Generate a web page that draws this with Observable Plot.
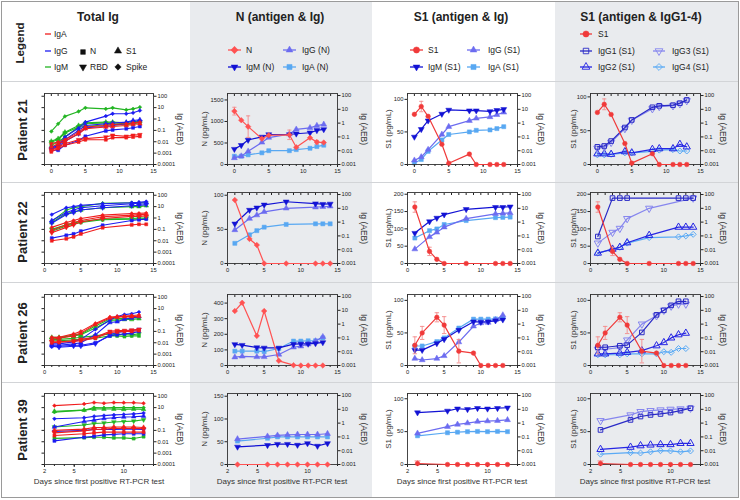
<!DOCTYPE html>
<html><head><meta charset="utf-8">
<script src="https://cdn.jsdelivr.net/npm/d3@7"></script>
<script src="https://cdn.jsdelivr.net/npm/@observablehq/plot@0.6"></script>
<style>
body{margin:0;background:#fff;font-family:"Liberation Sans",Arial,Helvetica,sans-serif;}
#fig{position:relative;width:740px;height:500px;overflow:hidden;background:#fff;}
</style></head>
<body><div id="fig"></div>
<script>
// ---------------- DATA ----------------
const antigens = ["N","RBD","S1","Spike"];
const igClasses = ["IgA","IgG","IgM"];
const columnTitles = ["Total Ig","N (antigen & Ig)","S1 (antigen & Ig)","S1 (antigen & IgG1-4)"];
const patientLabels = ["Patient 21","Patient 22","Patient 26","Patient 39"];
const logTicksTotal = [0.0001,0.001,0.01,0.1,1,10,100];
const logTicksPanel = [0.001,0.01,0.1,1,10,100];

// Patient 21
const p21Days = [0,1,2,4,5,8,9,11,12,13];
const p21TotalIgA = [
  [0.0013,0.0025,0.005,0.0095,0.015,0.015,0.023,0.023,0.026,0.03],
  [0.0018,0.0035,0.0068,0.015,0.019,0.026,0.037,0.03,0.037,0.042],
  [0.0035,0.0068,0.011,0.05,0.14,0.2,0.22,0.27,0.33,0.38],
  [0.0068,0.0095,0.015,0.07,0.2,0.27,0.33,0.38,0.44,0.53]];
const p21TotalIgG = [
  [0.0018,0.0018,0.005,0.013,0.03,0.09,0.11,0.14,0.17,0.22],
  [0.0025,0.0035,0.011,0.05,0.17,0.22,0.27,0.38,0.44,0.6],
  [0.0035,0.005,0.015,0.1,0.27,0.38,0.44,0.53,0.75,0.86],
  [0.0025,0.005,0.026,0.16,0.53,1.8,2.9,2.9,3.5,5.6]];
const p21TotalIgM = [
  [0.005,0.0095,0.026,0.2,0.22,0.31,0.33,0.31,0.38,0.47],
  [0.0095,0.015,0.058,0.2,0.38,0.44,0.44,0.38,0.47,0.53],
  [0.011,0.019,0.07,0.27,0.47,0.53,0.53,0.47,0.6,0.65],
  [0.08,0.38,1.7,4.6,9.6,7.8,9.6,6.4,7.8,11]];
const p21N = [1240,1030,880,600,680,690,400,620,520,510];
const p21NErr = [90,null,250,null,null,110,null,null,40,null];
const p21IgM_N = [0.013,0.025,0.06,0.1,0.15,0.15,0.17,0.2,0.3,0.35];
const p21IgG_N = [0.003,0.004,0.009,0.04,0.09,0.16,0.35,0.45,0.65,0.8];
const p21IgA_N = [0.004,0.004,0.005,0.007,0.01,0.01,0.012,0.015,0.02,0.025];
const p21S1 = [77,89,74,31,2,16,0,0,0,0];
const p21S1Err = [null,8,null,null,null,null,null,null,null,null];
const p21IgM_S1 = [0.1,0.36,1.5,4.6,9,8,8,7,8.5,10];
const p21IgG_S1 = [0.002,0.0035,0.012,0.15,0.55,1.5,2.2,2.8,4,6];
const p21IgA_S1 = [0.0013,0.0023,0.009,0.06,0.15,0.23,0.3,0.32,0.4,0.55];
const p21IgG1_S1 = [0.019,0.022,0.05,0.48,1.7,14,18,20,28,48];
const p21IgG2_S1 = [0.006,0.006,0.0055,0.0085,0.007,0.0125,0.014,0.014,0.029,0.019];
const p21IgG3_S1 = [0.015,0.018,0.04,0.4,1.6,11,16,18,25,42];
const p21IgG4_S1 = [0.005,0.005,0.0055,0.007,0.007,0.009,0.011,0.012,0.0095,0.0095];

// Patient 22
const p22Days = [1,3,4,5,8,12,13,14];
const p22TotalIgA = [
  [0.01,0.015,0.022,0.04,0.14,0.25,0.28,0.28],
  [0.05,0.15,0.25,0.45,0.9,1.4,1.4,1.5],
  [0.08,0.25,0.4,0.6,1.3,1.8,2,2],
  [0.15,0.4,0.6,0.9,1.8,2.5,2.6,2.7]];
const p22TotalIgG = [
  [0.017,0.03,0.04,0.07,0.23,0.6,0.7,0.8],
  [0.35,2,3,5,8,12,13,15],
  [0.6,3,5,8,12,18,20,22],
  [2,8,10,13,18,22,24,28]];
const p22TotalIgM = [
  [0.07,0.2,0.3,0.4,0.7,0.8,0.8,0.9],
  [0.1,0.25,0.35,0.5,0.8,0.9,1.0,1.0],
  [0.4,2.5,3.5,5,8,10,10,12],
  [0.5,5,8,10,20,22,22,22]];
const p22N = [93,36,27,0,0,0,0,0];
const p22NErr = [null,null,null,null,null,null,null,null];
const p22IgM_N = [0.76,7.5,11,18,30,22,20,21];
const p22IgG_N = [0.27,1.8,3.2,5.6,10,12,13,14];
const p22IgA_N = [0.029,0.12,0.24,0.43,0.68,0.75,0.75,0.75];
const p22S1 = [163,35,12,0,0,0,0,0];
const p22S1Err = [15,12,null,null,null,null,null,null];
const p22IgM_S1 = [0.16,1.1,2,3.5,8.5,12,12,13];
const p22IgG_S1 = [0.011,0.085,0.18,0.43,1.8,4,4.3,4.6];
const p22IgA_S1 = [0.07,0.24,0.32,0.67,1.3,2.1,2.2,2.3];
const p22IgG1_S1 = [0.09,55,55,55,null,55,55,55];
const p22IgG2_S1 = [0.0057,0.011,0.015,0.032,0.11,0.43,0.43,0.43];
const p22IgG3_S1 = [0.03,0.18,0.35,1.8,10,null,null,55];
const p22IgG4_S1 = [0.0057,0.011,0.015,0.03,0.076,0.085,0.1,0.13];

// Patient 26
const p26Days = [1,2,4,5,7,9,10,11,12,13];
const p26TotalIgA = [
  [0.01,0.011,0.013,0.015,0.025,0.08,0.09,0.1,0.1,0.12],
  [0.012,0.012,0.015,0.02,0.03,0.1,0.12,0.12,0.13,0.15],
  [0.02,0.025,0.04,0.07,0.4,1.5,1.8,2,2,2.2],
  [0.03,0.03,0.06,0.1,0.5,1.8,2,2.2,2.5,2.8]];
const p26TotalIgG = [
  [0.005,0.005,0.006,0.006,0.01,0.04,0.05,0.06,0.07,0.1],
  [0.005,0.004,0.005,0.005,0.008,0.05,0.08,0.1,0.12,0.15],
  [0.006,0.006,0.008,0.01,0.05,0.6,0.7,1.2,1.5,2],
  [0.008,0.008,0.012,0.02,0.15,1.0,2,3,3.5,5]];
const p26TotalIgM = [
  [0.015,0.015,0.018,0.02,0.025,0.04,0.04,0.035,0.04,0.04],
  [0.02,0.02,0.025,0.03,0.04,0.06,0.05,0.05,0.05,0.06],
  [0.03,0.03,0.04,0.05,0.2,0.9,1,1.1,1.1,1.3],
  [0.025,0.025,0.05,0.06,0.3,1.2,1.3,1.4,1.5,1.6]];
const p26N = [349,402,190,349,30,2,0,0,0,0];
const p26NErr = [null,null,null,null,null,null,null,null,null,null];
const p26IgM_N = [0.034,0.03,0.02,0.019,0.019,0.035,0.037,0.037,0.04,0.047];
const p26IgG_N = [0.004,0.0046,0.0042,0.0042,0.0063,0.021,0.025,0.035,0.059,0.12];
const p26IgA_N = [0.011,0.011,0.011,0.01,0.017,0.059,0.059,0.062,0.062,0.1];
const p26S1 = [31,50,74,62,22,19,0,0,0,0];
const p26S1Err = [13,10,7,13,18,null,null,null,null,null];
const p26IgM_S1 = [0.013,0.013,0.04,0.08,0.37,1.5,1.4,1.5,1.8,2.1];
const p26IgG_S1 = [0.0032,0.0025,0.0032,0.005,0.05,0.7,1.2,1.3,2,4.5];
const p26IgA_S1 = [0.026,0.026,0.054,0.1,0.52,2.3,2.3,2.3,2.4,2.9];
const p26IgG1_S1 = [0.021,0.021,0.027,0.03,0.25,4.7,10,23,45,45];
const p26IgG2_S1 = [0.007,0.007,0.008,0.009,0.012,0.027,0.046,0.1,0.17,0.22];
const p26IgG3_S1 = [0.015,0.015,0.02,0.07,1,4,10,20,28,28];
const p26IgG4_S1 = [0.006,0.006,0.006,0.007,0.007,0.007,0.01,0.009,0.017,0.017];

// Patient 39
const p39Days = [3,6,7,8,9,10,11,12];
const p39TotalIgA = [
  [0.035,0.05,0.06,0.07,0.07,0.07,0.07,0.07],
  [0.06,0.09,0.12,0.13,0.15,0.15,0.15,0.14],
  [0.1,0.13,0.18,0.18,0.2,0.2,0.2,0.18],
  [15,21,28,24,28,27,27,24]];
const p39TotalIgG = [
  [0.012,0.025,0.03,0.04,0.045,0.05,0.05,0.05],
  [0.08,0.1,0.12,0.12,0.12,0.13,0.13,0.12],
  [0.2,0.6,0.8,1.1,1.3,1.5,1.6,1.8],
  [1.05,1.3,1.7,2,2.3,2.5,2.8,3.3]];
const p39TotalIgM = [
  [0.02,0.023,0.025,0.025,0.022,0.022,0.019,0.028],
  [0.2,0.3,0.4,0.45,0.55,0.6,0.65,0.85],
  [4.8,6,7.5,7.5,7.5,7,7.5,7],
  [4,6,10,9.5,10,10,10,10]];
const p39N = [0,0,0,0,0,0,0,0];
const p39NErr = [null,null,null,null,null,null,null,null];
const p39IgM_N = [0.019,0.025,0.03,0.03,0.026,0.034,0.022,0.034];
const p39IgG_N = [0.07,0.11,0.13,0.14,0.15,0.15,0.15,0.17];
const p39IgA_N = [0.05,0.08,0.1,0.1,0.1,0.1,0.1,0.1];
const p39S1 = [1.5,0,0,0,0,0,0,0];
const p39S1Err = [4,null,null,null,null,null,null,null];
const p39IgM_S1 = [5.8,7.7,11,10,12,11,12,13];
const p39IgG_S1 = [0.18,0.55,0.8,1.0,1.3,1.4,1.5,1.7];
const p39IgA_S1 = [0.12,0.2,0.22,0.24,0.25,0.24,0.25,0.24];
const p39IgG1_S1 = [0.32,1.7,3,3.9,4.6,5.8,8,12];
const p39IgG2_S1 = [0.0125,0.018,0.023,0.026,0.028,0.028,0.034,0.034];
const p39IgG3_S1 = [1.5,3.9,6.8,8,9,10,10.7,12];
const p39IgG4_S1 = [0.0056,0.0072,0.0068,0.0083,0.01,0.0096,0.0083,0.0096];

// --------------- LAYOUT / STYLE ---------------
const FONT = '"Liberation Sans", Arial, Helvetica, sans-serif';
const C_IGA = "#f01c1c", C_IGG = "#1c1cf2", C_IGM = "#22b422";
const C_ANT_N = "#ff5252", C_ANT_S1 = "#f03a3a", C_ERR = "#f48a8a";
const C_M = "#1212d4", C_G = "#6c6cf0", C_A = "#58a8f2";
const C_G1 = "#2a2ac6", C_G2 = "#2626e4", C_G3 = "#8686ee", C_G4 = "#5aaaf5";
const triangleDown = {draw(ctx, size){ const s3 = Math.sqrt(3); const y = -Math.sqrt(size/(s3*3));
  ctx.moveTo(0,-2*y); ctx.lineTo(-s3*y, y); ctx.lineTo(s3*y, y); ctx.closePath(); }};
const antigenSymbols = ["square", triangleDown, "triangle", "diamond2"];

const colX = [{l:44,r:153},{l:227,r:337},{l:407,r:517},{l:590,r:700}];
const rowY = [{t:93,b:164},{t:192,b:263},{t:294,b:365},{t:393,b:464}];
const ML = 30, MR = 32, MT = 4, MB = 16;

const patients = [
  {days:p21Days, xDomain:[-1,15], xMajor:[0,5,10,15], total:[p21TotalIgA,p21TotalIgG,p21TotalIgM],
   N:p21N, NErr:p21NErr, nIg:[p21IgM_N,p21IgG_N,p21IgA_N], nDom:[0,1650], nTicks:[0,500,1000,1500],
   S1:p21S1, S1Err:p21S1Err, sIg:[p21IgM_S1,p21IgG_S1,p21IgA_S1], sDom:[0,109], sTicks:[0,50,100],
   sub:[p21IgG1_S1,p21IgG2_S1,p21IgG3_S1,p21IgG4_S1], gDom:[0,105], gTicks:[0,50,100]},
  {days:p22Days, xDomain:[0,15], xMajor:[0,5,10,15], total:[p22TotalIgA,p22TotalIgG,p22TotalIgM],
   N:p22N, NErr:p22NErr, nIg:[p22IgM_N,p22IgG_N,p22IgA_N], nDom:[0,104], nTicks:[0,50,100],
   S1:p22S1, S1Err:p22S1Err, sIg:[p22IgM_S1,p22IgG_S1,p22IgA_S1], sDom:[0,205], sTicks:[0,50,100,150,200],
   sub:[p22IgG1_S1,p22IgG2_S1,p22IgG3_S1,p22IgG4_S1], gDom:[0,205], gTicks:[0,50,100,150,200]},
  {days:p26Days, xDomain:[0,15], xMajor:[0,5,10,15], total:[p26TotalIgA,p26TotalIgG,p26TotalIgM],
   N:p26N, NErr:p26NErr, nIg:[p26IgM_N,p26IgG_N,p26IgA_N], nDom:[0,455], nTicks:[0,100,200,300,400],
   S1:p26S1, S1Err:p26S1Err, sIg:[p26IgM_S1,p26IgG_S1,p26IgA_S1], sDom:[0,109], sTicks:[0,50,100],
   sub:[p26IgG1_S1,p26IgG2_S1,p26IgG3_S1,p26IgG4_S1], gDom:[0,109], gTicks:[0,50,100]},
  {days:p39Days, xDomain:[2,13], xMajor:[2,5,10], total:[p39TotalIgA,p39TotalIgG,p39TotalIgM],
   N:p39N, NErr:p39NErr, nIg:[p39IgM_N,p39IgG_N,p39IgA_N], nDom:[0,156], nTicks:[0,50,100,150],
   S1:p39S1, S1Err:p39S1Err, sIg:[p39IgM_S1,p39IgG_S1,p39IgA_S1], sDom:[0,108], sTicks:[0,50,100],
   sub:[p39IgG1_S1,p39IgG2_S1,p39IgG3_S1,p39IgG4_S1], gDom:[0,108], gTicks:[0,50,100]}
];

// --------------- HELPERS ---------------
const fig = document.getElementById("fig");
function box(style){ const d = document.createElement("div"); Object.assign(d.style,{position:"absolute"},style); fig.appendChild(d); return d; }
function label(t, x, y, {size=11, weight="normal", rot=0, align="center", color="#222"}={}){
  const d = box({left:x+"px", top:y+"px", fontSize:size+"px", fontWeight:weight, color, whiteSpace:"nowrap", lineHeight:"1",
    fontFamily:FONT, transform:`translate(${align==="center"?"-50%":"0"},-50%) rotate(${rot}deg)`});
  d.textContent = t; return d;
}
function toRows(days, vals){ return days.map((x,i)=>({x, y: vals[i]})).filter(d => d.y != null); }
function series(days, vals, {color, symbol, r=2.3, fill, width=1.2}){
  const data = toRows(days, vals);
  const f = fill === undefined ? color : fill;
  return [Plot.line(data,{x:"x", y:"y", stroke:color, strokeWidth:width}),
          Plot.dot(data,{x:"x", y:"y", symbol, r, fill:f, stroke:color, strokeWidth: f==="none" ? 1 : 0.5})];
}
function errBars(days, vals, errs, color){
  const data = days.map((x,i)=>({x, y: vals[i], e: errs[i]})).filter(d => d.e != null);
  return [
    Plot.ruleX(data,{x:"x", y1:d=>Math.max(0,d.y-d.e), y2:d=>d.y+d.e, stroke:color, strokeWidth:0.9}),
    Plot.link(data,{x1:d=>d.x-0.3, x2:d=>d.x+0.3, y1:d=>d.y+d.e, y2:d=>d.y+d.e, stroke:color, strokeWidth:0.9}),
    Plot.link(data.filter(d=>d.y-d.e>0),{x1:d=>d.x-0.3, x2:d=>d.x+0.3, y1:d=>d.y-d.e, y2:d=>d.y-d.e, stroke:color, strokeWidth:0.9})
  ];
}
const fmtLog = d3.format("~g");

function panel(ci, ri, {logDomain, logTicks, logMarks, linDomain, linTicks, linMarks, totalIg}){
  const p = patients[ri], c = colX[ci], r = rowY[ri];
  const fw = c.r - c.l, fh = r.b - r.t, W = fw + ML + MR, H = fh + MT + MB;
  const common = {width:W, height:H, marginLeft:ML, marginRight:MR, marginTop:MT, marginBottom:MB,
    style:{fontSize:"5.8px", fontFamily:FONT, background:"transparent", color:"#222", overflow:"visible"}};
  const host = box({left:(c.l-ML)+"px", top:(r.t-MT)+"px", width:W+"px", height:H+"px"});
  const minor = d3.range(p.xDomain[0], p.xDomain[1]+1);
  const logPlot = Plot.plot({...common,
    x:{domain:p.xDomain, axis:null, label:null},
    y:{type:"log", domain:logDomain, label:null},
    marks:[
      Plot.axisY({anchor:"right", ticks:logTicks, tickFormat:fmtLog, tickSize:2.5, tickPadding:1.5, label:null}),
      totalIg ? Plot.axisY({anchor:"left", ticks:logTicks, tickFormat:()=>"", tickSize:2.5, label:null}) : null,
      ...logMarks
    ]});
  const linMarksAll = [
    Plot.axisX({ticks:minor, tickSize:2, tickFormat:()=>"", label:null}),
    Plot.axisX({ticks:p.xMajor, tickSize:3, tickPadding:1.5, label:null}),
    Plot.axisX({anchor:"top", ticks:minor, tickSize:-2, tickFormat:()=>"", label:null}),
    Plot.frame({stroke:"#333", strokeWidth:0.9})
  ];
  const linOpts = {...common, x:{domain:p.xDomain, label:null}};
  if (!totalIg){
    linOpts.y = {domain:linDomain, label:null};
    linMarksAll.push(Plot.axisY({ticks:linTicks, tickSize:2.5, tickPadding:1.5, tickFormat:d3.format("d"), label:null}));
    linMarksAll.push(...linMarks);
  }
  const linPlot = Plot.plot({...linOpts, marks:linMarksAll});
  for (const s of [logPlot, linPlot]) { s.style.position = "absolute"; s.style.left = "0px"; s.style.top = "0px"; host.appendChild(s); }
}

// --------------- BACKGROUND ---------------
box({left:"190px", top:"2px", width:"182px", height:"495px", background:"#e9ebee"});
box({left:"555px", top:"2px", width:"183px", height:"495px", background:"#e9ebee"});
for (const y of [81,182,282,382]) box({left:"2px", top:y+"px", width:"736px", height:"1px", background:"#d2d4d7"});
box({left:"1px", top:"1px", width:"738px", height:"497px", border:"1.5px solid #9a9a9a", boxSizing:"border-box"});

// --------------- HEADER ---------------
label(columnTitles[0], 98, 17, {size:12, weight:"bold"});
label(columnTitles[1], 280, 17, {size:12, weight:"bold"});
label(columnTitles[2], 461, 17, {size:12, weight:"bold"});
label(columnTitles[3], 641, 17, {size:12, weight:"bold"});
label("Legend", 21, 43, {size:11.5, weight:"bold", rot:-90});

const leg = d3.select(fig).append("svg").attr("width",740).attr("height",81)
  .style("position","absolute").style("left","0px").style("top","0px");
function legLine(x1,x2,y,color){ leg.append("line").attr("x1",x1).attr("x2",x2).attr("y1",y).attr("y2",y).attr("stroke",color).attr("stroke-width",1.3); }
function legSym(x,y,type,size,color,fill){ leg.append("path").attr("transform",`translate(${x},${y})`)
  .attr("d", d3.symbol(type,size)()).attr("fill",fill).attr("stroke",color).attr("stroke-width", fill==="none"?0.9:0.5); }
function legText(x,y,t){ leg.append("text").attr("x",x).attr("y",y).attr("dy","0.35em").attr("font-size",8.5)
  .attr("font-family",FONT).attr("fill","#222").text(t); }
// Total Ig legend
legLine(45,51,34,C_IGA); legText(54,34,"IgA");
legLine(45,51,51,C_IGG); legText(54,51,"IgG");
legLine(45,51,67,C_IGM); legText(54,67,"IgM");
legSym(83,52,d3.symbolSquare,22,"#111","#111"); legText(90,51,"N");
legSym(83,67,triangleDown,22,"#111","#111"); legText(90,67,"RBD");
legSym(118,51,d3.symbolTriangle,22,"#111","#111"); legText(126,51,"S1");
legSym(118,67,d3.symbolDiamond2,26,"#111","#111"); legText(126,67,"Spike");
// N legend
legLine(228,241,50,C_ANT_N); legSym(234.5,50,d3.symbolDiamond2,34,C_ANT_N,C_ANT_N); legText(246,50,"N");
legLine(283,296,50,C_G); legSym(289.5,50,d3.symbolTriangle,20,C_G,C_G); legText(302,50,"IgG (N)");
legLine(228,241,67,C_M); legSym(234.5,67,triangleDown,20,C_M,C_M); legText(246,67,"IgM (N)");
legLine(283,296,67,C_A); legSym(289.5,67,d3.symbolSquare,26,C_A,C_A); legText(302,67,"IgA (N)");
// S1 legend
legLine(410,423,50,C_ANT_S1); legSym(416.5,50,d3.symbolCircle,30,C_ANT_S1,C_ANT_S1); legText(428,50,"S1");
legLine(467,480,50,C_G); legSym(473.5,50,d3.symbolTriangle,20,C_G,C_G); legText(488,50,"IgG (S1)");
legLine(410,423,67,C_M); legSym(416.5,67,triangleDown,20,C_M,C_M); legText(428,67,"IgM (S1)");
legLine(467,480,67,C_A); legSym(473.5,67,d3.symbolSquare,26,C_A,C_A); legText(488,67,"IgA (S1)");
// S1 IgG1-4 legend
legLine(580,592,34,C_ANT_S1); legSym(586,34,d3.symbolCircle,30,C_ANT_S1,C_ANT_S1); legText(598,34,"S1");
legLine(580,592,51,C_G1); legSym(586,51,d3.symbolSquare,30,C_G1,"none"); legText(598,51,"IgG1 (S1)");
legLine(580,592,67,C_G2); legSym(586,67,d3.symbolTriangle,26,C_G2,"none"); legText(598,67,"IgG2 (S1)");
legLine(653,665,51,C_G3); legSym(659,51,triangleDown,26,C_G3,"none"); legText(672,51,"IgG3 (S1)");
legLine(653,665,67,C_G4); legSym(659,67,d3.symbolDiamond2,30,C_G4,"none"); legText(672,67,"IgG4 (S1)");

// --------------- PANELS ---------------
const rowCenters = [130, 232, 333, 430];
patients.forEach((p, ri) => {
  const d = p.days;
  const igColors = [C_IGA, C_IGG, C_IGM];
  const totalMarks = [];
  for (const gi of [2,1,0]) p.total[gi].forEach((vals, k) =>
    totalMarks.push(...series(d, vals, {color:igColors[gi], symbol:antigenSymbols[k], r:1.7, width:1.1})));
  panel(0, ri, {logDomain:[0.0001,175], logTicks:logTicksTotal, logMarks:totalMarks, totalIg:true});
  panel(1, ri, {logDomain:[0.001,140], logTicks:logTicksPanel,
    logMarks:[...series(d,p.nIg[2],{color:C_A,symbol:"square",r:2.3}),
              ...series(d,p.nIg[1],{color:C_G,symbol:"triangle",r:2.2}),
              ...series(d,p.nIg[0],{color:C_M,symbol:triangleDown,r:2.2})],
    linDomain:p.nDom, linTicks:p.nTicks,
    linMarks:[...errBars(d,p.N,p.NErr,C_ERR), ...series(d,p.N,{color:C_ANT_N,symbol:"diamond2",r:2.5})]});
  panel(2, ri, {logDomain:[0.001,140], logTicks:logTicksPanel,
    logMarks:[...series(d,p.sIg[2],{color:C_A,symbol:"square",r:2.3}),
              ...series(d,p.sIg[1],{color:C_G,symbol:"triangle",r:2.2}),
              ...series(d,p.sIg[0],{color:C_M,symbol:triangleDown,r:2.2})],
    linDomain:p.sDom, linTicks:p.sTicks,
    linMarks:[...errBars(d,p.S1,p.S1Err,C_ERR), ...series(d,p.S1,{color:C_ANT_S1,symbol:"circle",r:2.3})]});
  panel(3, ri, {logDomain:[0.001,140], logTicks:logTicksPanel,
    logMarks:[...series(d,p.sub[3],{color:C_G4,symbol:"diamond2",r:2.7,fill:"none"}),
              ...series(d,p.sub[1],{color:C_G2,symbol:"triangle",r:2.7,fill:"none"}),
              ...series(d,p.sub[2],{color:C_G3,symbol:triangleDown,r:2.7,fill:"none"}),
              ...series(d,p.sub[0],{color:C_G1,symbol:"square",r:2.6,fill:"none"})],
    linDomain:p.gDom, linTicks:p.gTicks,
    linMarks:[...errBars(d,p.S1,p.S1Err,C_ERR), ...series(d,p.S1,{color:C_ANT_S1,symbol:"circle",r:2.3})]});

  const cy = (rowY[ri].t + rowY[ri].b) / 2;
  label(patientLabels[ri], 22, rowCenters[ri], {size:13, weight:"bold", rot:-90});
  label("Ig (AEB)", 180, cy, {size:8.5, rot:90, color:"#333"});
  label("Ig (AEB)", 364, cy, {size:8.5, rot:90, color:"#333"});
  label("Ig (AEB)", 541, cy, {size:8.5, rot:90, color:"#333"});
  label("Ig (AEB)", 723, cy, {size:8.5, rot:90, color:"#333"});
  label("N (pg/mL)", 205, cy, {size:8, rot:-90, color:"#333"});
  label("S1 (pg/mL)", 389, cy, {size:8, rot:-90, color:"#333"});
  label("S1 (pg/mL)", 574, cy, {size:8, rot:-90, color:"#333"});
});

const xTitle = "Days since first positive RT-PCR test";
label(xTitle, 99, 482, {size:8, color:"#333"});
label(xTitle, 282, 482, {size:8, color:"#333"});
label(xTitle, 462, 482, {size:8, color:"#333"});
label(xTitle, 645, 482, {size:8, color:"#333"});
</script>
</body></html>
